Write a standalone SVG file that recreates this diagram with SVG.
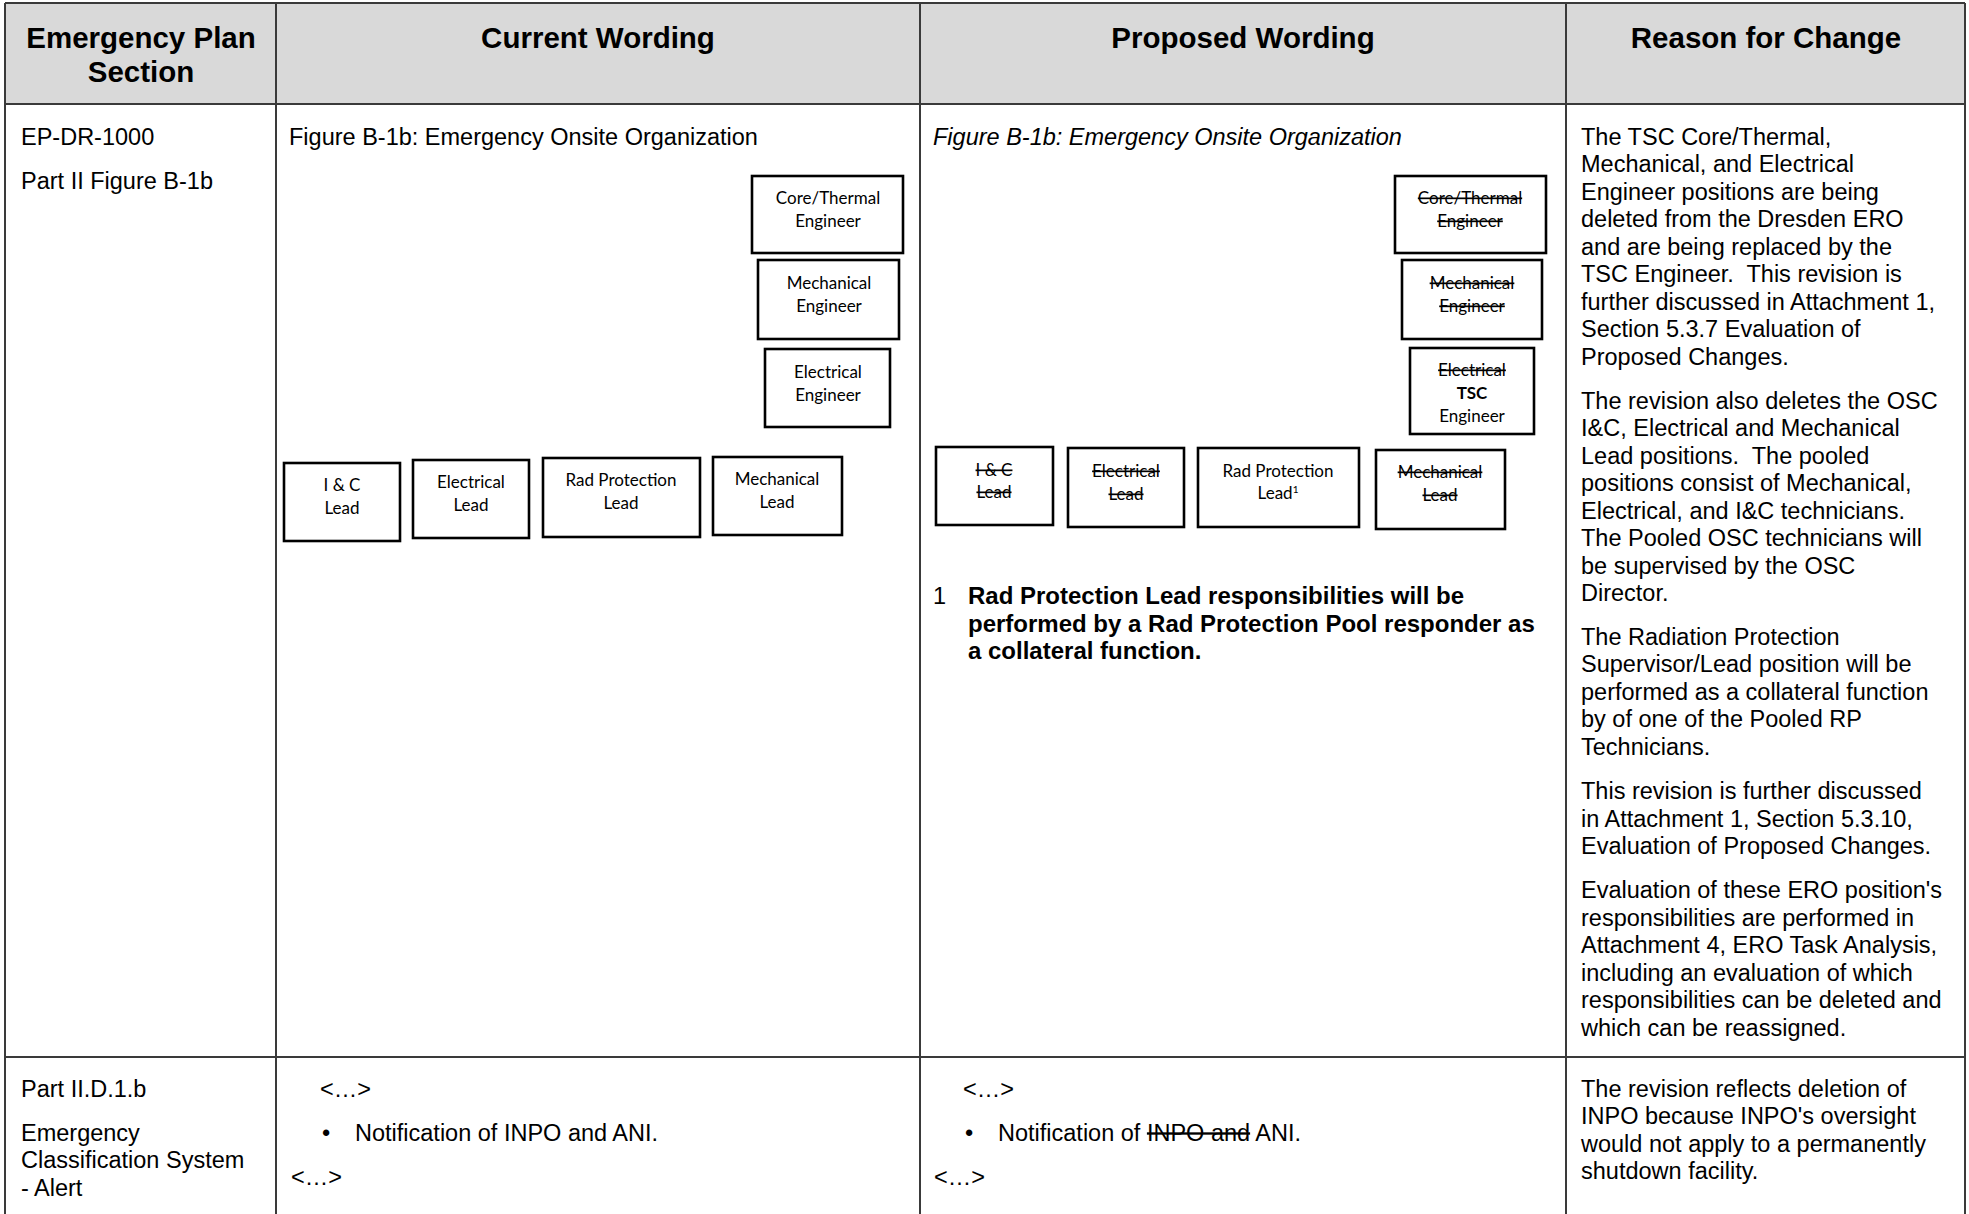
<svg xmlns="http://www.w3.org/2000/svg" width="1969" height="1214" viewBox="0 0 1969 1214">
<style>
.grid{stroke:#3a3a3a;stroke-width:2;fill:none}
.hdr{font-family:"Liberation Sans",Arial,sans-serif;font-weight:bold;font-size:29.5px;fill:#000;text-anchor:middle}
.body{font-family:"Liberation Sans",Arial,sans-serif;font-size:23.5px;fill:#000}
.it{font-style:italic}
.b{font-weight:bold;font-size:24px}
.box{fill:#fff;stroke:#000;stroke-width:2.6}
.bt{font-family:Lato,"Open Sans",sans-serif;font-size:17px;fill:#000;text-anchor:middle}
.del{text-decoration:line-through}
</style>
<rect x="0" y="0" width="1969" height="1214" fill="#fff"/>
<g id="table">
<rect x="5" y="3" width="1960" height="101" fill="#d9d9d9"/>
<line class="grid" x1="5" y1="3" x2="1965" y2="3"/>
<line class="grid" x1="5" y1="104" x2="1965" y2="104"/>
<line class="grid" x1="5" y1="1057" x2="1965" y2="1057"/>
<line class="grid" x1="5" y1="3" x2="5" y2="1214"/>
<line class="grid" x1="276" y1="3" x2="276" y2="1214"/>
<line class="grid" x1="920" y1="3" x2="920" y2="1214"/>
<line class="grid" x1="1566" y1="3" x2="1566" y2="1214"/>
<line class="grid" x1="1965" y1="3" x2="1965" y2="1214"/>
</g>
<g id="headers">
<text class="hdr" x="141" y="48">Emergency Plan</text>
<text class="hdr" x="141" y="82">Section</text>
<text class="hdr" x="598" y="48">Current Wording</text>
<text class="hdr" x="1243" y="48">Proposed Wording</text>
<text class="hdr" x="1766" y="48">Reason for Change</text>
</g>
<g id="row1-section" class="body">
<text x="21" y="144.5">EP-DR-1000</text>
<text x="21" y="188.5">Part II Figure B-1b</text>
</g>
<g id="row1-current">
<text class="body" x="289" y="144.5">Figure B-1b: Emergency Onsite Organization</text>
</g>
<g id="cur-core-thermal">
<rect class="box" x="752" y="176" width="151" height="77"/>
<text class="bt" x="828" y="204">Core/Thermal</text>
<text class="bt" x="828" y="227">Engineer</text>
</g>
<g id="cur-mech-eng">
<rect class="box" x="758" y="260" width="141" height="79"/>
<text class="bt" x="829" y="289">Mechanical</text>
<text class="bt" x="829" y="312">Engineer</text>
</g>
<g id="cur-elec-eng">
<rect class="box" x="765" y="349" width="125" height="78"/>
<text class="bt" x="828" y="378">Electrical</text>
<text class="bt" x="828" y="401">Engineer</text>
</g>
<g id="cur-ic-lead">
<rect class="box" x="284" y="463" width="116" height="78"/>
<text class="bt" x="342" y="491">I &amp; C</text>
<text class="bt" x="342" y="514">Lead</text>
</g>
<g id="cur-elec-lead">
<rect class="box" x="413" y="460" width="116" height="78"/>
<text class="bt" x="471" y="488">Electrical</text>
<text class="bt" x="471" y="511">Lead</text>
</g>
<g id="cur-rp-lead">
<rect class="box" x="543" y="458" width="157" height="79"/>
<text class="bt" x="621" y="486">Rad Protection</text>
<text class="bt" x="621" y="509">Lead</text>
</g>
<g id="cur-mech-lead">
<rect class="box" x="713" y="457" width="129" height="78"/>
<text class="bt" x="777" y="485">Mechanical</text>
<text class="bt" x="777" y="508">Lead</text>
</g>
<g id="row1-proposed">
<text class="body it" x="933" y="144.5">Figure B-1b: Emergency Onsite Organization</text>
</g>
<g id="prop-core-thermal">
<rect class="box" x="1395" y="176" width="151" height="77"/>
<text class="bt del" x="1470" y="204">Core/Thermal</text>
<text class="bt del" x="1470" y="227">Engineer</text>
</g>
<g id="prop-mech-eng">
<rect class="box" x="1402" y="260" width="140" height="79"/>
<text class="bt del" x="1472" y="289">Mechanical</text>
<text class="bt del" x="1472" y="312">Engineer</text>
</g>
<g id="prop-tsc-eng">
<rect class="box" x="1410" y="348" width="124" height="86"/>
<text class="bt del" x="1472" y="376">Electrical</text>
<text class="bt" x="1472" y="399" font-weight="bold">TSC</text>
<text class="bt" x="1472" y="422">Engineer</text>
</g>
<g id="prop-ic-lead">
<rect class="box" x="936" y="447" width="117" height="78"/>
<text class="bt del" x="994" y="476">I &amp; C</text>
<text class="bt del" x="994" y="498">Lead</text>
</g>
<g id="prop-elec-lead">
<rect class="box" x="1068" y="448" width="116" height="79"/>
<text class="bt del" x="1126" y="477">Electrical</text>
<text class="bt del" x="1126" y="500">Lead</text>
</g>
<g id="prop-rp-lead">
<rect class="box" x="1198" y="448" width="161" height="79"/>
<text class="bt" x="1278" y="477">Rad Protection</text>
<text class="bt" x="1278" y="499">Lead<tspan font-size="10px" dy="-6">1</tspan></text>
</g>
<g id="prop-mech-lead">
<rect class="box" x="1376" y="450" width="129" height="79"/>
<text class="bt del" x="1440" y="478">Mechanical</text>
<text class="bt del" x="1440" y="501">Lead</text>
</g>
<g id="footnote" class="body">
<text x="933" y="604">1</text>
<text class="b" x="968" y="604">Rad Protection Lead responsibilities will be</text>
<text class="b" x="968" y="631.5">performed by a Rad Protection Pool responder as</text>
<text class="b" x="968" y="659">a collateral function.</text>
</g>
<g id="row1-reason" class="body">
<text x="1581" y="144.5">The TSC Core/Thermal,</text>
<text x="1581" y="172">Mechanical, and Electrical</text>
<text x="1581" y="199.5">Engineer positions are being</text>
<text x="1581" y="227">deleted from the Dresden ERO</text>
<text x="1581" y="254.5">and are being replaced by the</text>
<text x="1581" y="282" xml:space="preserve">TSC Engineer.  This revision is</text>
<text x="1581" y="309.5">further discussed in Attachment 1,</text>
<text x="1581" y="337">Section 5.3.7 Evaluation of</text>
<text x="1581" y="364.5">Proposed Changes.</text>
<text x="1581" y="408.5">The revision also deletes the OSC</text>
<text x="1581" y="436">I&amp;C, Electrical and Mechanical</text>
<text x="1581" y="463.5" xml:space="preserve">Lead positions.  The pooled</text>
<text x="1581" y="491">positions consist of Mechanical,</text>
<text x="1581" y="518.5">Electrical, and I&amp;C technicians.</text>
<text x="1581" y="546">The Pooled OSC technicians will</text>
<text x="1581" y="573.5">be supervised by the OSC</text>
<text x="1581" y="601">Director.</text>
<text x="1581" y="644.5">The Radiation Protection</text>
<text x="1581" y="672">Supervisor/Lead position will be</text>
<text x="1581" y="699.5">performed as a collateral function</text>
<text x="1581" y="727">by of one of the Pooled RP</text>
<text x="1581" y="754.5">Technicians.</text>
<text x="1581" y="799">This revision is further discussed</text>
<text x="1581" y="826.5">in Attachment 1, Section 5.3.10,</text>
<text x="1581" y="854">Evaluation of Proposed Changes.</text>
<text x="1581" y="898">Evaluation of these ERO position's</text>
<text x="1581" y="925.5">responsibilities are performed in</text>
<text x="1581" y="953">Attachment 4, ERO Task Analysis,</text>
<text x="1581" y="980.5">including an evaluation of which</text>
<text x="1581" y="1008">responsibilities can be deleted and</text>
<text x="1581" y="1035.5">which can be reassigned.</text>
</g>
<g id="row2-section" class="body">
<text x="21" y="1096.5">Part II.D.1.b</text>
<text x="21" y="1140.5">Emergency</text>
<text x="21" y="1168">Classification System</text>
<text x="21" y="1195.5">- Alert</text>
</g>
<g id="row2-current" class="body">
<text x="320" y="1096.5">&lt;…&gt;</text>
<text x="322" y="1140.5">•</text>
<text x="355" y="1140.5">Notification of INPO and ANI.</text>
<text x="291" y="1184.5">&lt;…&gt;</text>
</g>
<g id="row2-proposed" class="body">
<text x="963" y="1096.5">&lt;…&gt;</text>
<text x="965" y="1140.5">•</text>
<text x="998" y="1140.5">Notification of <tspan class="del">INPO and</tspan> ANI.</text>
<text x="934" y="1184.5">&lt;…&gt;</text>
</g>
<g id="row2-reason" class="body">
<text x="1581" y="1096.5">The revision reflects deletion of</text>
<text x="1581" y="1124">INPO because INPO's oversight</text>
<text x="1581" y="1151.5">would not apply to a permanently</text>
<text x="1581" y="1179">shutdown facility.</text>
</g>
<g id="connectors"/>
</svg>
